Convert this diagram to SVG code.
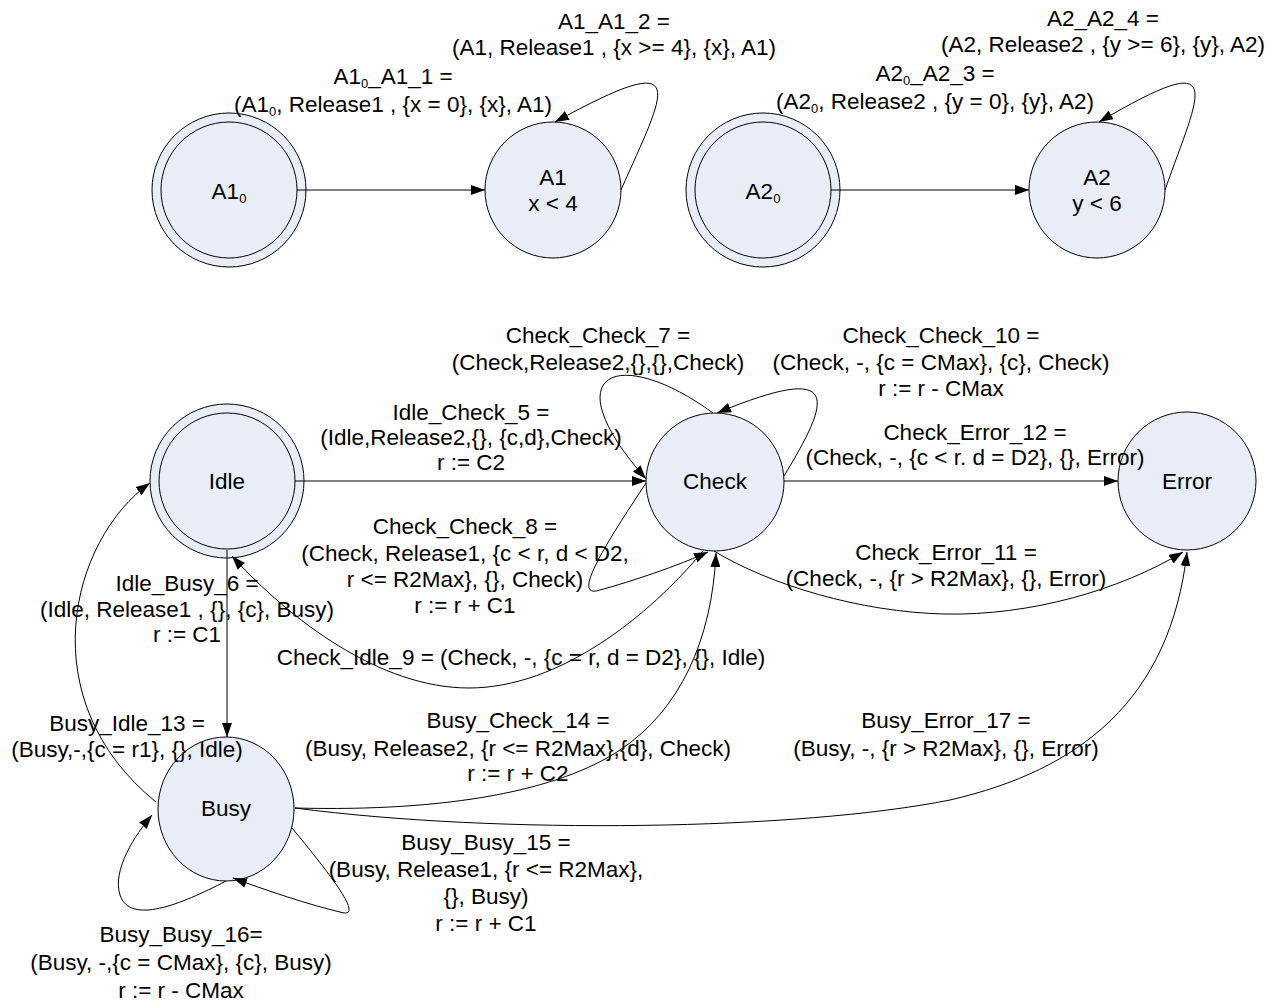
<svg xmlns="http://www.w3.org/2000/svg" width="1286" height="1003" viewBox="0 0 1286 1003">
  <style>
    .st { fill: #e8edf7; stroke: #000; stroke-width: 1; }
    .ed { fill: none; stroke: #000; stroke-width: 1; marker-end: url(#ah); }
    text { font-family: "Liberation Sans", Arial, sans-serif; font-size: 22.5px; text-anchor: middle; fill: #000; }
    .sub { font-size: 13px; }
  </style>
  <defs>
    <marker id="ah" viewBox="0 0 14 10" refX="14" refY="5" markerWidth="14" markerHeight="10" markerUnits="userSpaceOnUse" orient="auto">
      <path d="M0,0 L14,5 L0,10 z" fill="#000"/>
    </marker>
  </defs>
  <rect width="1286" height="1003" fill="#fff"/>

  <!-- states -->
  <g id="A1_0">
    <circle class="st" cx="229" cy="190" r="77"/>
    <circle class="st" cx="229" cy="190" r="68"/>
    <text x="229" y="199">A1<tspan class="sub" dy="4">0</tspan></text>
  </g>
  <g id="A1">
    <circle class="st" cx="553" cy="190" r="68"/>
    <text x="553" y="185">A1</text>
    <text x="553" y="211">x &lt; 4</text>
  </g>
  <g id="A2_0">
    <circle class="st" cx="763" cy="190" r="77"/>
    <circle class="st" cx="763" cy="190" r="68"/>
    <text x="763" y="199">A2<tspan class="sub" dy="4">0</tspan></text>
  </g>
  <g id="A2">
    <circle class="st" cx="1097" cy="190" r="68"/>
    <text x="1097" y="185">A2</text>
    <text x="1097" y="211">y &lt; 6</text>
  </g>
  <g id="Idle">
    <circle class="st" cx="227" cy="481" r="77"/>
    <circle class="st" cx="227" cy="481" r="68"/>
    <text x="227" y="489">Idle</text>
  </g>
  <g id="Check">
    <circle class="st" cx="715" cy="482" r="69"/>
    <text x="715" y="489">Check</text>
  </g>
  <g id="Error">
    <circle class="st" cx="1187" cy="481" r="69"/>
    <text x="1187" y="489">Error</text>
  </g>
  <g id="Busy">
    <ellipse class="st" cx="226" cy="809" rx="68" ry="72"/>
    <text x="226" y="816">Busy</text>
  </g>

  <!-- transitions -->
  <g id="connectors">
    <path class="ed" d="M297,190 L485,190"/>
    <path class="ed" d="M621,190 C665,90 695,45 555,122"/>
    <path class="ed" d="M831,190 L1029,190"/>
    <path class="ed" d="M1165,190 C1200,90 1230,45 1099,122"/>

    <path class="ed" d="M295,481 L646,481"/>
    <path class="ed" d="M713,413 C620,345 550,370 646,479"/>
    <path class="ed" d="M784,476 C830,400 845,360 717,413"/>
    <path class="ed" d="M784,481 L1118,481"/>
    <path class="ed" d="M646,483 C605,545 570,600 600,590 C630,582 680,565 708,552"/>
    <path class="ed" d="M703,551 C650,615 560,688 469,688 C380,688 290,620 232,556"/>
    <path class="ed" d="M714,551 C770,585 860,612 944,614 C1030,616 1120,590 1183,552"/>
    <path class="ed" d="M227,550 L227,737"/>
    <path class="ed" d="M156,802 C30,700 70,540 150,483"/>
    <path class="ed" d="M295,808 C450,812 560,790 620,750 C680,710 712,640 716,553"/>
    <path class="ed" d="M295,808 C500,835 800,830 950,800 C1080,770 1170,700 1187,552"/>
    <path class="ed" d="M292,828 C335,880 365,920 340,912 C310,905 265,890 233,878"/>
    <path class="ed" d="M226,881 C180,905 130,925 120,895 C112,870 135,835 152,815"/>
  </g>

  <!-- transition labels -->
  <g id="labels">
    <text x="614" y="29">A1_A1_2 =</text>
    <text x="614" y="55">(A1, Release1 , {x &gt;= 4}, {x}, A1)</text>
    <text x="393" y="84">A1<tspan class="sub" dy="4">0</tspan><tspan dy="-4">_A1_1 =</tspan></text>
    <text x="393" y="112">(A1<tspan class="sub" dy="4">0</tspan><tspan dy="-4">, Release1 , {x = 0}, {x}, A1)</tspan></text>

    <text x="1103" y="26">A2_A2_4 =</text>
    <text x="1103" y="52">(A2, Release2 , {y &gt;= 6}, {y}, A2)</text>
    <text x="935" y="81">A2<tspan class="sub" dy="4">0</tspan><tspan dy="-4">_A2_3 =</tspan></text>
    <text x="935" y="109">(A2<tspan class="sub" dy="4">0</tspan><tspan dy="-4">, Release2 , {y = 0}, {y}, A2)</tspan></text>

    <text x="598" y="343">Check_Check_7 =</text>
    <text x="598" y="370">(Check,Release2,{},{},Check)</text>

    <text x="941" y="343">Check_Check_10 =</text>
    <text x="941" y="370">(Check, -, {c = CMax}, {c}, Check)</text>
    <text x="941" y="396">r := r - CMax</text>

    <text x="471" y="420">Idle_Check_5 =</text>
    <text x="471" y="445">(Idle,Release2,{}, {c,d},Check)</text>
    <text x="471" y="470">r := C2</text>

    <text x="975" y="440">Check_Error_12 =</text>
    <text x="975" y="465">(Check, -, {c &lt; r. d = D2}, {}, Error)</text>

    <text x="465" y="534">Check_Check_8 =</text>
    <text x="465" y="561">(Check, Release1, {c &lt; r, d &lt; D2,</text>
    <text x="465" y="587">r &lt;= R2Max}, {}, Check)</text>
    <text x="465" y="613">r := r + C1</text>

    <text x="946" y="560">Check_Error_11 =</text>
    <text x="946" y="586">(Check, -, {r &gt; R2Max}, {}, Error)</text>

    <text x="187" y="591">Idle_Busy_6 =</text>
    <text x="187" y="617">(Idle, Release1 , {}, {c}, Busy)</text>
    <text x="187" y="642">r := C1</text>

    <text x="521" y="665">Check_Idle_9 = (Check, -, {c = r, d = D2}, {}, Idle)</text>

    <text x="127" y="731">Busy_Idle_13 =</text>
    <text x="127" y="757">(Busy,-,{c = r1}, {}, Idle)</text>

    <text x="518" y="728">Busy_Check_14 =</text>
    <text x="518" y="756">(Busy, Release2, {r &lt;= R2Max},{d}, Check)</text>
    <text x="518" y="781">r := r + C2</text>

    <text x="946" y="728">Busy_Error_17 =</text>
    <text x="946" y="756">(Busy, -, {r &gt; R2Max}, {}, Error)</text>

    <text x="486" y="850">Busy_Busy_15 =</text>
    <text x="486" y="877">(Busy, Release1, {r &lt;= R2Max},</text>
    <text x="486" y="904">{}, Busy)</text>
    <text x="486" y="931">r := r + C1</text>

    <text x="181" y="942">Busy_Busy_16=</text>
    <text x="181" y="970">(Busy, -,{c = CMax}, {c}, Busy)</text>
    <text x="181" y="998">r := r - CMax</text>
  </g>
</svg>
